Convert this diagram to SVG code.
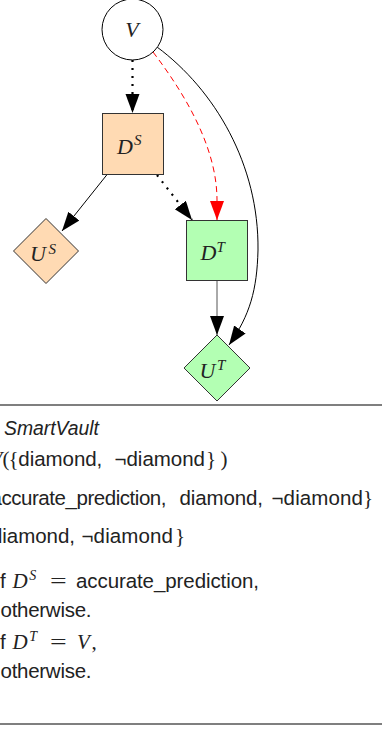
<svg xmlns="http://www.w3.org/2000/svg" width="382" height="729" viewBox="0 0 382 729">
  <style>
    .bg { fill: #ffffff; }
    .mi { font-family: "Liberation Serif", "DejaVu Serif", serif; font-style: italic; fill: #222; }
    .mr { font-family: "Liberation Serif", "DejaVu Serif", serif; fill: #222; }
    .tx { font-family: "Liberation Sans", "DejaVu Sans", sans-serif; font-size: 20.5px; fill: #222; }
    .lbl { font-size: 22px; }
    .sup { font-size: 15px; }
    .bsup { font-size: 14px; }
    .peach { fill: #ffdab3; stroke: #333; stroke-width: 1; }
    .green { fill: #b3ffb3; stroke: #333; stroke-width: 1; }
    .edge { fill: none; stroke: #000; stroke-width: 1; }
    .dotted { stroke-width: 2.2; stroke-dasharray: 2 6; }
    .red { stroke: #ff0000; stroke-dasharray: 6 4; }
    .rule { stroke: #555; stroke-width: 1.3; }
  </style>
  <defs>
    <marker id="ah" markerUnits="userSpaceOnUse" markerWidth="20" markerHeight="16" refX="19" refY="7" orient="auto">
      <path d="M0,0 L19,7 L0,14 z" fill="#000"/>
    </marker>
    <marker id="ah-red" markerUnits="userSpaceOnUse" markerWidth="20" markerHeight="16" refX="19" refY="7" orient="auto">
      <path d="M0,0 L19,7 L0,14 z" fill="#ff0000"/>
    </marker>
  </defs>

  <rect class="bg" x="0" y="0" width="382" height="729"/>

  <!-- connectors -->
  <g id="edges">
    <path class="edge dotted" d="M132.5,60 L132.5,113" marker-end="url(#ah)"/>
    <path class="edge" d="M107.5,174 L62,231" marker-end="url(#ah)"/>
    <path class="edge dotted" d="M157,175 L192,220" marker-end="url(#ah)"/>
    <path class="edge red" d="M153,52 C188,98 217,150 217,200 L217,220" marker-end="url(#ah-red)"/>
    <path class="edge" d="M157,47 C215,90 259,165 258,250 C257,290 250,315 229,345" marker-end="url(#ah)"/>
    <path class="edge" style="stroke:#555" d="M217,281 L217,335" marker-end="url(#ah)"/>
  </g>

  <!-- nodes -->
  <g id="node-V">
    <circle cx="132.5" cy="29.5" r="30.5" fill="#fff" stroke="#000" stroke-width="1"/>
    <text class="mi lbl" x="132" y="37" text-anchor="middle">V</text>
  </g>
  <g id="node-DS">
    <rect class="peach" x="102.5" y="113.5" width="61" height="61"/>
    <text class="mi lbl" x="117" y="153.5">D</text>
    <text class="mi sup" x="134" y="145">S</text>
  </g>
  <g id="node-DT">
    <rect class="green" x="186.5" y="220.5" width="61" height="60"/>
    <text class="mi lbl" x="200.5" y="260">D</text>
    <text class="mi sup" x="216.5" y="252">T</text>
  </g>
  <g id="node-US">
    <polygon class="peach" points="46,218.5 78.5,251 46,283.5 13.5,251"/>
    <text class="mi lbl" x="30" y="260.5">U</text>
    <text class="mi sup" x="48.5" y="254">S</text>
  </g>
  <g id="node-UT">
    <polygon class="green" points="217,335 250,368 217,401 184,368"/>
    <text class="mi lbl" x="199.5" y="378">U</text>
    <text class="mi sup" x="217" y="370">T</text>
  </g>

  <!-- rules -->
  <line class="rule" x1="0" y1="405" x2="382" y2="405"/>
  <line class="rule" x1="0" y1="724" x2="382" y2="724"/>

  <!-- definitions -->
  <g id="definitions">
    <text class="tx" x="4" y="434.5" font-style="italic" textLength="95" lengthAdjust="spacingAndGlyphs">SmartVault</text>

    <text class="mi" font-size="20" x="-10" y="466">V</text>
    <text class="mr" font-size="21" x="2.5" y="466">(</text>
    <text class="mr" font-size="21" x="8.5" y="466">{</text>
    <text class="tx" x="18.3" y="466" textLength="84">diamond,</text>
    <text class="tx" x="114.5" y="466" textLength="90.5">¬diamond</text>
    <text class="mr" font-size="21" x="206" y="466">}</text>
    <text class="mr" font-size="21" x="220.5" y="466">)</text>

    <text class="tx" x="-9.5" y="505" textLength="176">accurate_prediction,</text>
    <text class="tx" x="179.5" y="505" textLength="83.5">diamond,</text>
    <text class="tx" x="271.5" y="505" textLength="91.5">¬diamond</text>
    <text class="mr" font-size="21" x="363" y="505">}</text>

    <text class="tx" x="-9" y="543" textLength="84">diamond,</text>
    <text class="tx" x="81.5" y="543" textLength="91.5">¬diamond</text>
    <text class="mr" font-size="21" x="175" y="543">}</text>

    <text class="tx" x="-4.5" y="588">if</text>
    <text class="mi" font-size="21" x="12.5" y="588">D</text>
    <text class="mi bsup" x="29.3" y="579.5">S</text>
    <text class="mr" font-size="21" x="50" y="588" textLength="16.7" lengthAdjust="spacingAndGlyphs">=</text>
    <text class="tx" x="76" y="588" textLength="183">accurate_prediction,</text>

    <text class="tx" x="0.5" y="617" textLength="91">otherwise.</text>

    <text class="tx" x="-4.5" y="649">if</text>
    <text class="mi" font-size="21" x="12.5" y="649">D</text>
    <text class="mi bsup" x="29.3" y="641">T</text>
    <text class="mr" font-size="21" x="50" y="649" textLength="16.7" lengthAdjust="spacingAndGlyphs">=</text>
    <text class="mi" font-size="21" x="77" y="649">V</text>
    <text class="mr" font-size="21" x="91.5" y="649">,</text>

    <text class="tx" x="0.5" y="678" textLength="91">otherwise.</text>
  </g>
</svg>
